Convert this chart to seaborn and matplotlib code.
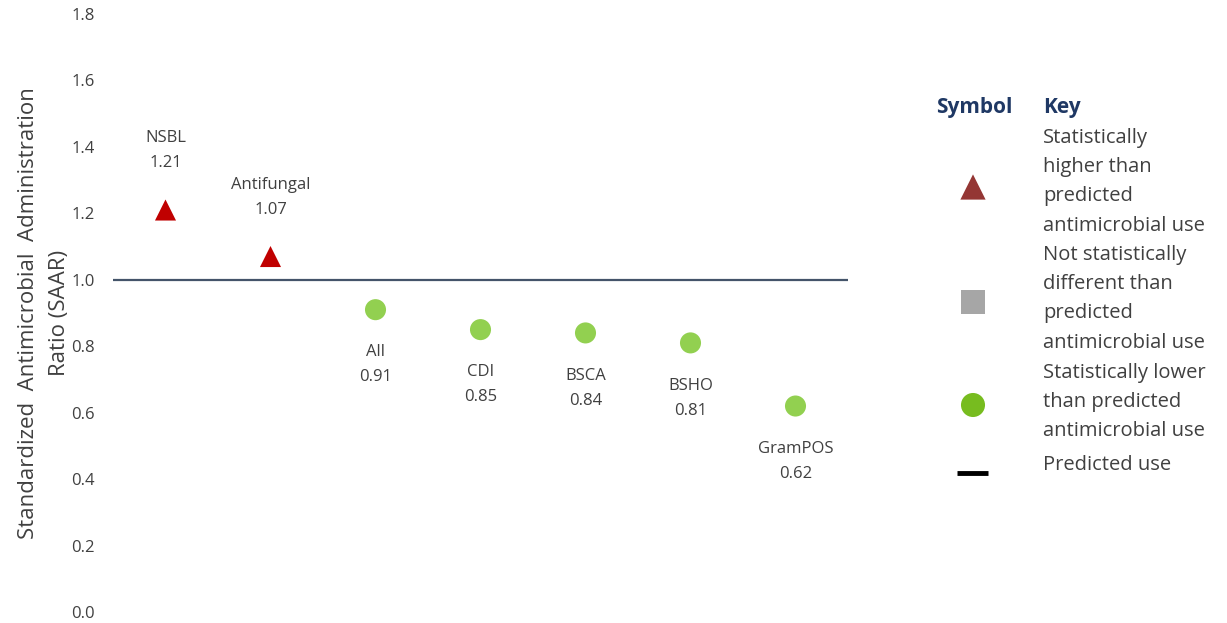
import pandas as pd
import seaborn as sns
from matplotlib import pyplot as plt

# chart data
categories = ['NSBL', 'Antifungal', 'All', 'CDI', 'BSCA', 'BSHO', 'GramPOS']
saar = [1.21, 1.07, 0.91, 0.85, 0.84, 0.81, 0.62]
status = ['higher', 'higher', 'lower', 'lower', 'lower', 'lower', 'lower']
predicted = 1.0
y_ticks = [0.0, 0.2, 0.4, 0.6, 0.8, 1.0, 1.2, 1.4, 1.6, 1.8]

# key text, one list per symbol
key_higher = ['Statistically', 'higher than', 'predicted', 'antimicrobial use']
key_same = ['Not statistically', 'different than', 'predicted', 'antimicrobial use']
key_lower = ['Statistically lower', 'than predicted', 'antimicrobial use']
key_pred = ['Predicted use']

TXT = '#404040'
sns.set_style('white')
plt.rcParams['font.family'] = ['Open Sans', 'DejaVu Sans']

df = pd.DataFrame({'cat': categories, 'saar': saar, 'status': status})

fig = plt.figure(figsize=(12.27, 6.23), dpi=100)

# background axes in pixel coordinates for the symbol key
kax = fig.add_axes([0, 0, 1, 1])
kax.set_xlim(0, 1227)
kax.set_ylim(623, 0)
kax.axis('off')

ax = fig.add_axes([113 / 1227, 11 / 623, 735 / 1227, 598 / 623])
ax.axhline(predicted, color='#44546A', lw=1.6, zorder=1)
sns.scatterplot(data=df, x='cat', y='saar', hue='status', style='status',
                palette={'higher': '#C00000', 'lower': '#92D050'},
                markers={'higher': '^', 'lower': 'o'},
                s=230, edgecolor='none', legend=False, ax=ax, zorder=3)

for i, (c, v) in enumerate(zip(categories, saar)):
    if v > predicted:
        ax.annotate(f'{c}\n{v:.2f}', (i, v), xytext=(0, 28), textcoords='offset points',
                    ha='center', va='bottom', fontsize=12, color=TXT, linespacing=1.75)
    else:
        ax.annotate(f'{c}\n{v:.2f}', (i, v), xytext=(0, -25), textcoords='offset points',
                    ha='center', va='top', fontsize=12, color=TXT, linespacing=1.75)

ax.set_xlim(-0.5, len(categories) - 0.5)
ax.set_ylim(0, 1.8)
ax.set_yticks(y_ticks)
ax.set_yticklabels([f'{t:.1f}' for t in y_ticks], fontsize=12, color=TXT)
ax.set_xticks([])
ax.set_xlabel('')
ax.set_ylabel('Standardized  Antimicrobial  Administration\nRatio (SAAR)',
              fontsize=16, color=TXT, labelpad=1, linespacing=1.6)
ax.tick_params(axis='y', length=0, pad=13)
sns.despine(ax=ax, left=True, bottom=True)

# symbol key
kax.text(974, 107, 'Symbol', ha='center', va='center', fontsize=15,
         fontweight='bold', color='#1F3864')
kax.text(1043, 107, 'Key', ha='left', va='center', fontsize=15,
         fontweight='bold', color='#1F3864')

line_h = 29.2
groups = [(key_higher, 138, '^', '#943634', 187),
          (key_same, 255, 's', '#A6A6A6', 302),
          (key_lower, 373, 'o', '#77BC1F', 405)]
for lines, y0, m, col, ym in groups:
    for j, t in enumerate(lines):
        kax.text(1043, y0 + j * line_h, t, ha='left', va='center', fontsize=14.5, color=TXT)
    kax.scatter([973], [ym], marker=m, s=330 if m == '^' else 300, color=col, edgecolor='none')
kax.text(1043, 465, key_pred[0], ha='left', va='center', fontsize=14.5, color=TXT)
kax.plot([957, 988], [473, 473], color='black', lw=3.5, solid_capstyle='butt')

fig.savefig('out.png', dpi=100)
